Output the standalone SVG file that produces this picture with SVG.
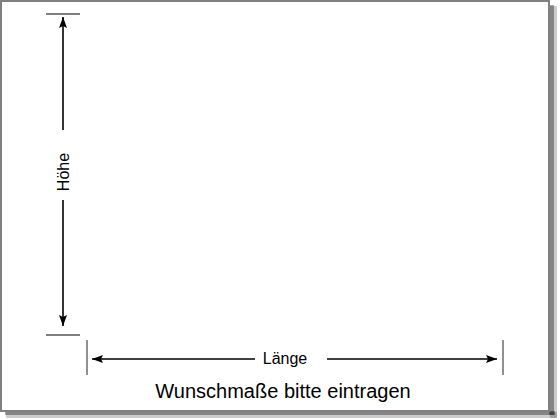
<svg xmlns="http://www.w3.org/2000/svg" width="560" height="420" viewBox="0 0 560 420">
<defs>
<style>
.dim{stroke:#000;stroke-width:1.6;fill:none}
.tick{stroke:#555;stroke-width:1.3;fill:none}
.lbl{font-family:"Liberation Sans",Arial,sans-serif;fill:#000}
</style>
<marker id="ah" viewBox="0 0 11 8" refX="11" refY="4" markerWidth="11" markerHeight="8" markerUnits="userSpaceOnUse" orient="auto">
<path d="M0,0 L11,4 L0,8 L2,4 Z" fill="#000"/>
</marker>
</defs>
<rect width="560" height="420" fill="#fff"/>
<g id="shadow">
<rect x="6" y="412" width="551" height="6" fill="#000" opacity="0.2"/>
<rect x="550" y="6" width="7" height="412" fill="#000" opacity="0.2"/>
<rect x="5" y="411" width="550" height="4" fill="#000" opacity="0.35"/>
<rect x="549" y="5" width="5" height="410" fill="#000" opacity="0.35"/>
</g>
<g id="frame">
<rect x="1" y="1" width="548" height="410" fill="#fff" stroke="#808080" stroke-width="2"/>
</g>
<g id="ticks">
<line class="tick" x1="46" y1="14" x2="80" y2="14"/>
<line class="tick" x1="46" y1="335" x2="80" y2="335"/>
<line class="tick" x1="87" y1="340" x2="87" y2="375"/>
<line class="tick" x1="503" y1="340" x2="503" y2="375"/>
</g>
<g id="connectors">
<line class="dim" x1="63" y1="130" x2="63" y2="17" marker-end="url(#ah)"/>
<line class="dim" x1="63" y1="200" x2="63" y2="326" marker-end="url(#ah)"/>
<line class="dim" x1="255" y1="359" x2="92" y2="359" marker-end="url(#ah)"/>
<line class="dim" x1="327" y1="359" x2="497" y2="359" marker-end="url(#ah)"/>
</g>
<g id="hoehe">
<text class="lbl" font-size="16" text-anchor="middle" transform="translate(68.5,172) rotate(-90)">Höhe</text>
</g>
<g id="laenge">
<text class="lbl" font-size="16" x="285" y="364" text-anchor="middle">Länge</text>
</g>
<g id="caption">
<text class="lbl" font-size="20" x="283" y="398" text-anchor="middle">Wunschmaße bitte eintragen</text>
</g>
</svg>
